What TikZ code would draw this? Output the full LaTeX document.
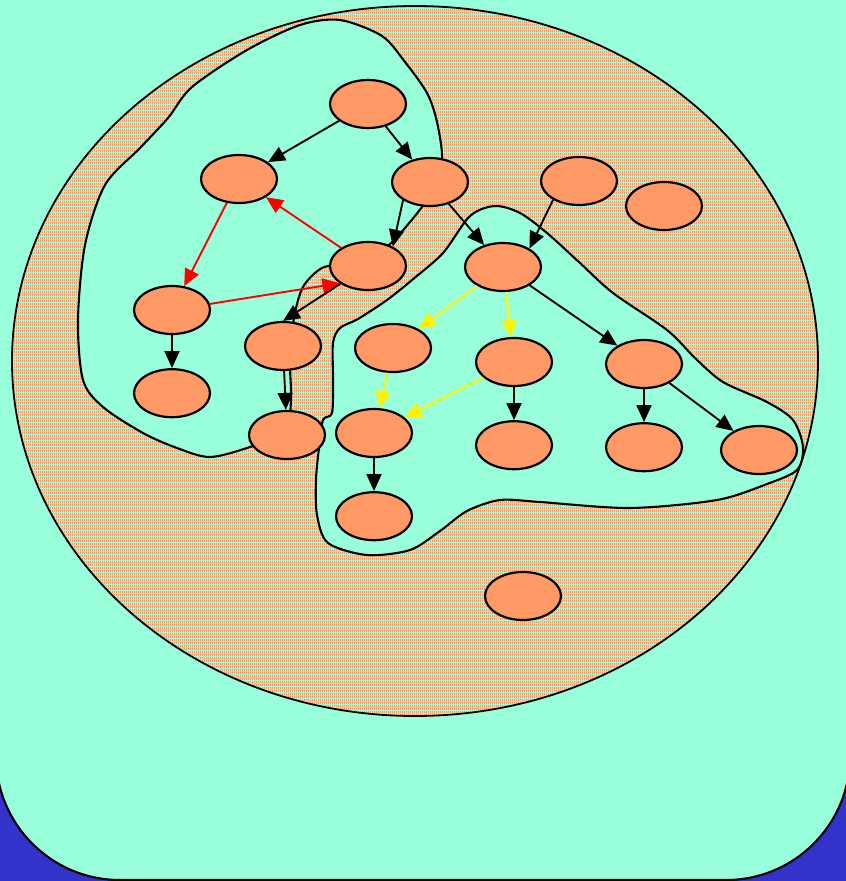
\documentclass[tikz,border=0pt]{standalone}
\usepackage{tikz}
\usetikzlibrary{arrows.meta,positioning,shapes.geometric,patterns}

\definecolor{mint}{RGB}{153,255,219}
\definecolor{salmon}{RGB}{255,153,102}
\definecolor{royal}{RGB}{51,51,204}

\pgfdeclarepatternformonly{speckle}{\pgfqpoint{0pt}{0pt}}{\pgfqpoint{0.8pt}{2pt}}{\pgfqpoint{2pt}{3pt}}{%
  \pgfpathrectangle{\pgfqpoint{0pt}{0pt}}{\pgfqpoint{0.8pt}{2pt}}%
  \pgfusepath{fill}}

\begin{document}
\begin{tikzpicture}[
      x=1pt, y=-1pt,
      node distance=33pt,
      cell/.style={
        ellipse, draw, fill=salmon, line width=2.2pt, inner sep=0pt,
        minimum width=76pt, minimum height=48pt
      },
      region/.style={draw, fill=mint, line width=2.1pt},
      speckled/.style={
        draw, line width=1.8pt, preaction={fill=mint},
        pattern=speckle, pattern color=salmon
      },
      link/.style={->, line width=1.9pt},
      >={Triangle[length=17pt,width=15pt]}
    ]
    % FONDO
    \useasboundingbox (0,0) rectangle (846,881);
    \fill[royal] (0,0) rectangle (846,881);
    \draw[region, rounded corners=124pt] (-4,-200) rectangle (850,880);
    \draw[speckled] (415,361) ellipse [x radius=403, y radius=355];

    % REGIONES
    \draw[region] plot[smooth cycle] coordinates {
      (340,20) (382,36) (405,62) (427,93) (437,122) (442,160) (432,192)
      (410,222) (385,248) (350,262) (322,268) (303,287) (294,318)
      (290,360) (291,400) (285,432) (250,447) (210,457) (177,448)
      (143,433) (103,407) (83,380) (78,320) (85,245) (105,185) (140,148)
      (168,118) (192,87) (247,50) (300,25)
    };
    \draw[region] plot[smooth cycle] coordinates {
      (495,206) (520,213) (547,233) (580,263) (613,293) (667,330)
      (695,358) (723,382) (767,402) (793,420) (803,447) (797,470)
      (767,484) (717,500) (630,508) (540,502) (500,500) (467,511)
      (440,531) (410,550) (367,555) (328,543) (317,515) (316,480)
      (319,448) (323,420) (332,413) (333,380) (333,343) (340,328)
      (358,319) (387,300) (412,280) (443,253) (470,216)
    };

    % NODOS
    \node[cell] (root) at (368,104) {};
    \node[cell] (left) at (239,179) {};
    \node[cell] (right) at (430,182) {};
    \node[cell] (feed) at (579,181) {};
    \node[cell] (lone) at (664,206) {};
    \node[cell] (pivot) at (368,266) {};
    \node[cell] (hub) at (503,267) {};
    \node[cell] (far) at (172,310) {};
    \node[cell] (drop) at (283,346) {};
    \node[cell] (ya) at (393,348) {};
    \node[cell] (yb) at (514,362) {};
    \node[cell] (branch) at (644,364) {};
    \node[cell, below=of far] (farend) {};
    \node[cell] (base) at (287,435) {};
    \node[cell] (merge) at (374,433) {};
    \node[cell, below=of yb] (ybend) {};
    \node[cell, below=of branch] (leafa) {};
    \node[cell] (leafb) at (759,450) {};
    \node[cell, below=of merge] (sink) {};
    \node[cell] (stray) at (523,596) {};

    % FLECHAS
    \draw[link] (root) -- (left);
    \draw[link] (root) -- (right);
    \draw[link] (right.214) -- (pivot.38);
    \draw[link] (right) -- (hub);
    \draw[link] (feed.216) -- (hub.35);
    \draw[link] (pivot) -- (drop.north);
    \draw[link] (drop) -- (base);
    \draw[link] (far) -- (farend);
    \draw[link] (hub) -- (branch);
    \draw[link] (yb) -- (ybend);
    \draw[link] (branch) -- (leafa);
    \draw[link] (branch) -- (leafb);
    \draw[link] (merge) -- (sink);

    \draw[link, red] (left) -- (far);
    \draw[link, red] (pivot) -- (left);
    \draw[link, red] (far) -- (pivot.211);

    \draw[link, yellow] (hub) -- (ya);
    \draw[link, yellow] (hub) -- (yb);
    \draw[link, yellow] (ya) -- (merge);
    \draw[link, yellow] (yb) -- (merge);
  \end{tikzpicture}
\end{document}
